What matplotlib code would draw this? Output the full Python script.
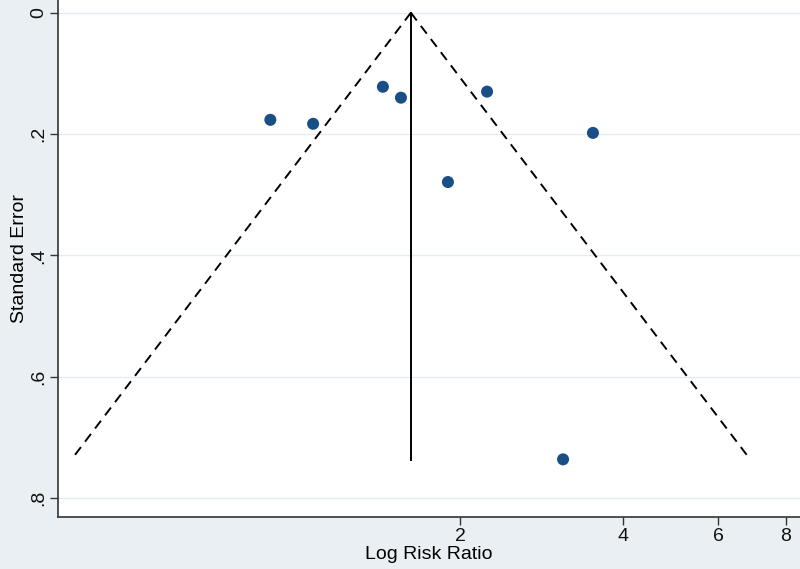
import matplotlib.pyplot as plt
import numpy as np

plt.rcParams['font.family'] = ['Liberation Sans', 'DejaVu Sans']

# study estimates (risk ratio, standard error)
riskRatios = [0.893, 1.071, 1.441, 1.556, 2.244, 3.52, 1.90, 3.10]
standardErrors = [0.1765, 0.183, 0.122, 0.140, 0.130, 0.198, 0.279, 0.736]

# pooled estimate and depth of funnel
pooledRR = 1.623
maxSE = 0.737

xTicks = [2, 4, 6, 8]
yTicks = [0, 0.2, 0.4, 0.6, 0.8]
yTickLabels = ['0', '.2', '.4', '.6', '.8']

if __name__ == '__main__':
    fig = plt.figure(figsize=(8, 5.69), dpi=100)
    fig.patch.set_facecolor('#e9eff3')
    ax = fig.add_axes([0.0725, 0.0914, 0.9275, 0.9086])
    ax.set_facecolor('white')

    # funnel (95% pseudo confidence limits)
    seLine = np.array([0, maxSE])
    ax.plot(pooledRR * np.exp(-1.96 * seLine), seLine, color='black',
            linestyle=(0, (5, 3.5)), linewidth=1.4)
    ax.plot(pooledRR * np.exp(1.96 * seLine), seLine, color='black',
            linestyle=(0, (5, 3.5)), linewidth=1.4)
    ax.plot([pooledRR, pooledRR], [0, maxSE], color='black', linewidth=1.4)

    ax.scatter(riskRatios, standardErrors, s=75, color='#1a4f86', zorder=3,
               edgecolors='none')

    ax.set_xscale('log')
    ax.set_xlim(0.362, 8.49)
    ax.set_ylim(0.831, -0.021)
    ax.set_xticks(xTicks)
    ax.set_xticklabels([str(t) for t in xTicks])
    ax.minorticks_off()
    ax.set_yticks(yTicks)
    ax.set_yticklabels(yTickLabels, rotation=90, va='center')

    for t in yTicks:
        ax.axhline(t, color='#e3ecf3', linewidth=1, zorder=0)

    for side in ['top', 'right']:
        ax.spines[side].set_visible(False)
    for side in ['left', 'bottom']:
        ax.spines[side].set_color('#333333')
        ax.spines[side].set_linewidth(1.2)

    ax.tick_params(axis='both', length=6, width=1, colors='#333333',
                   labelsize=14, labelcolor='#111111', pad=2)
    ax.set_xlabel('Log Risk Ratio', fontsize=14, labelpad=1)
    ax.set_ylabel('Standard Error', fontsize=14, labelpad=1)

    plt.savefig('out.png', dpi=100, facecolor=fig.get_facecolor())
